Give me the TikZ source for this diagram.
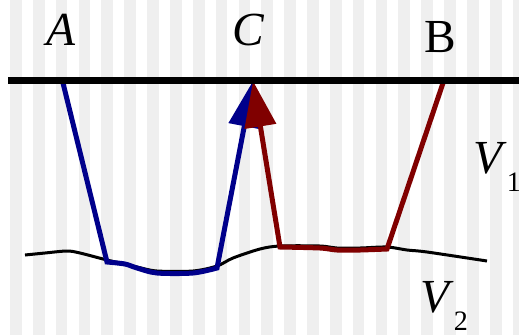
\documentclass[tikz,border=0pt]{standalone}
\usepackage{fontspec}
\setmainfont{Liberation Serif}
\usetikzlibrary{arrows.meta}
\definecolor{mynavy}{RGB}{0,0,139}
\definecolor{mymaroon}{RGB}{128,0,0}
\definecolor{mystripe}{RGB}{239,239,239}
\tikzset{
  stripe/.style={fill=mystripe, draw=none},
  lbl/.style={inner sep=0pt, font=\fontsize{27}{30}\selectfont},
  surface/.style={line width=0.14cm, color=black},
  interface/.style={line width=0.06cm, color=black},
  raytip/.style={-{Triangle[length=0.92cm, width=0.62cm]}},
  bluepath/.style={raytip, line width=0.1cm, color=mynavy},
  redpath/.style={raytip, line width=0.1cm, color=mymaroon}
}
\newcommand{\sublbl}[1]{\raisebox{-10.5pt}{\fontsize{16}{16}\selectfont #1}}

\begin{document}
\begin{tikzpicture}[x=0.02cm, y=-0.02cm]
  \useasboundingbox (0,0) rectangle (519,335);
  % background stripes
  \foreach \k in {0,...,22}
    \fill[stripe] ({10+22.85*\k},0) rectangle ++(11.7,335);

  \coordinate (a) at (63,83);
  \coordinate (c) at (253,81);
  \coordinate (b) at (443,83);

  \node[lbl, anchor=base] (labA) at (61,45) {\textit{A}};
  \node[lbl, anchor=base] (labC) at (249,45) {\textit{C}};
  \node[lbl, anchor=base] (labB) at (440,52) {B};
  \node[lbl, anchor=base west] (labV1) at (473,173) {\textit{V}\sublbl{1}};
  \node[lbl, anchor=base west] (labV2) at (420,312) {\textit{V}\sublbl{2}};

  % interface between the two media
  \draw[interface] plot[smooth] coordinates {(25,255) (45,253) (67,251) (80,253)
    (107,260) (137,267) (157,271) (193,271) (217,266) (233,258) (260,249)
    (280,246) (320,246) (337,248) (360,248) (387,247) (407,250) (427,252) (487,261)};

  % the two rays
  \draw[bluepath] (a) -- plot[smooth] coordinates {(107,262) (125,264) (137,268)
    (157,273) (193,273) (217,268)} -- (c);
  \draw[redpath] (b) -- plot[smooth] coordinates {(387,249) (360,250) (337,250)
    (320,248) (280,247)} -- (c);

  \draw[surface] (8,80) -- (519,80);
\end{tikzpicture}
\end{document}
